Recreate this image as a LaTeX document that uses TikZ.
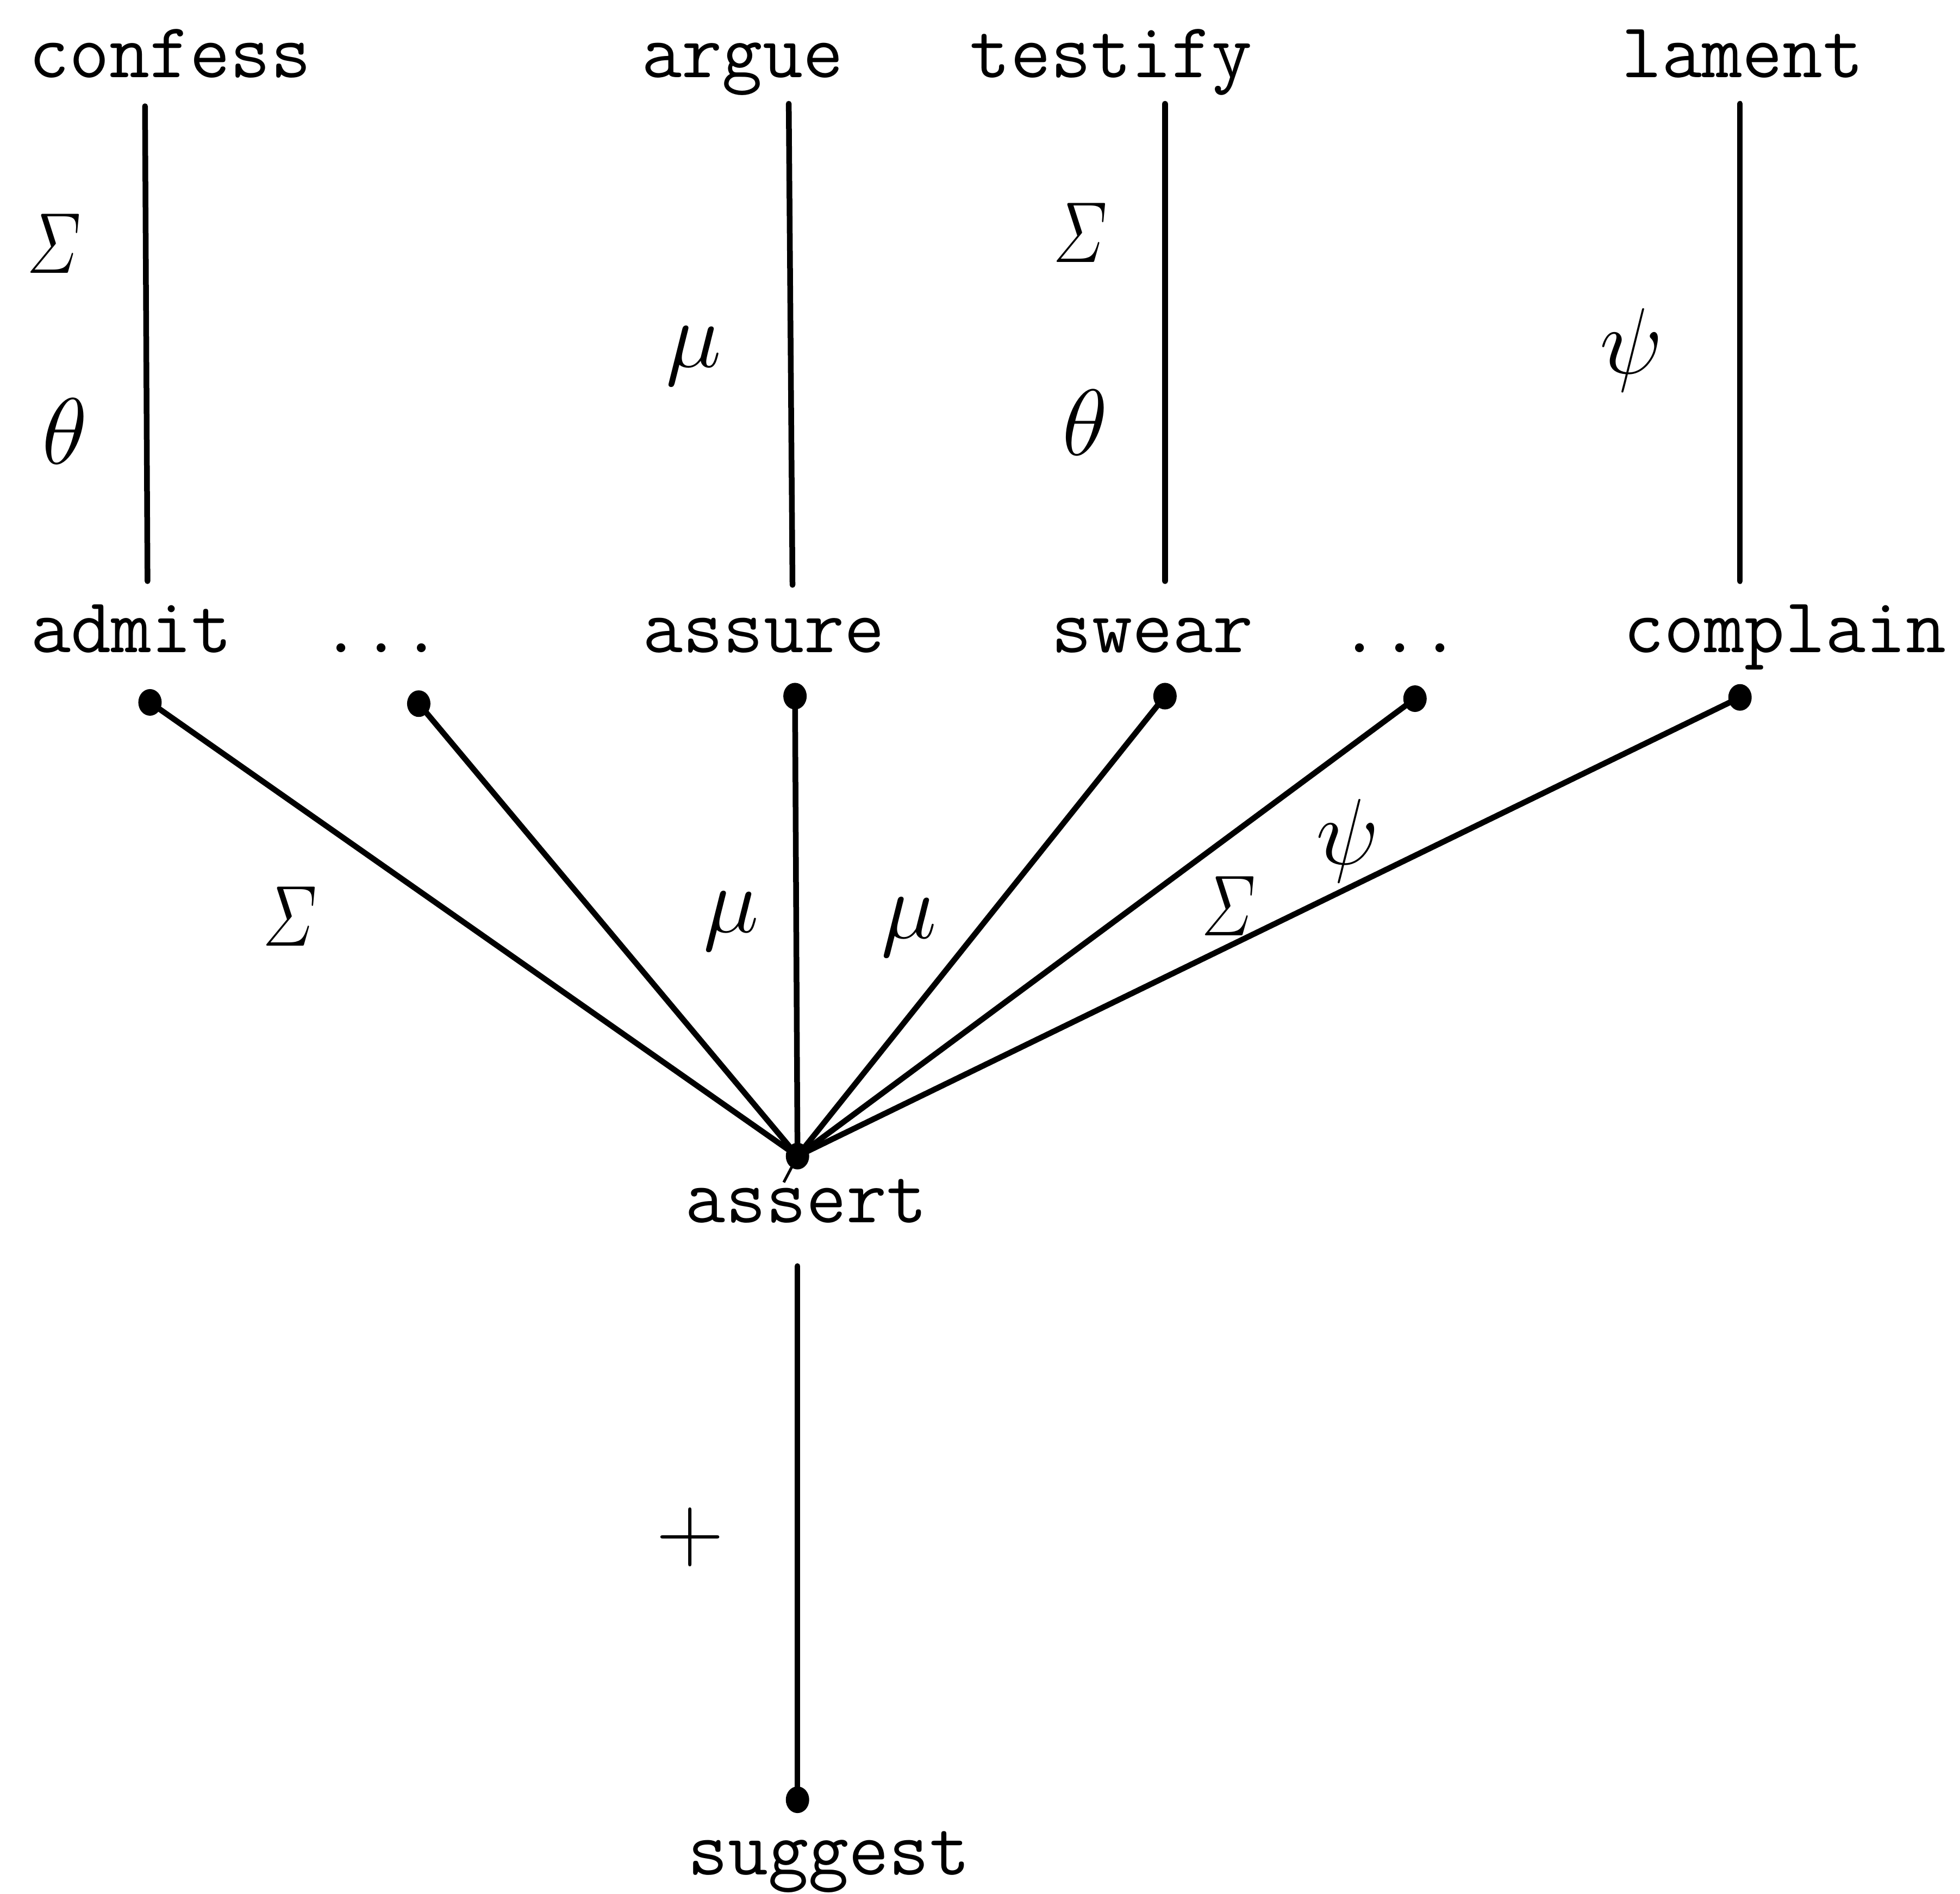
\documentclass[tikz,border=0pt]{standalone}
\usepackage{amsmath}
\usepackage{fontspec}
\usetikzlibrary{shapes.geometric}
\newcommand{\sigl}{\scalebox{0.7}[0.92]{$\varSigma$}}
\begin{document}
\begin{tikzpicture}[x=0.23pt,y=-0.23pt,
  word/.style={font=\ttfamily\fontsize{14.4}{16}\selectfont, inner sep=0pt, anchor=base},
  lbl/.style={font=\fontsize{17}{20}\selectfont, inner sep=0pt},
  pt/.style={ellipse, fill=black, inner sep=0pt, minimum width=4.3pt, minimum height=4.9pt},
  edge/.style={line width=1.05pt, line cap=round}]
\useasboundingbox (0,0) rectangle (1568,1515);
% words
\node[word] (confess) at (136,62) {confess};
\node[word] (argue) at (594,62) {argue};
\node[word] (testify) at (889,62) {testify};
\node[word] (lament) at (1394,62) {lament};
\node[word] (admit) at (105,522) {admit};
\node[word] (dotsa) at (305,522) {...};
\node[word] (assure) at (611,522) {assure};
\node[word] (swear) at (922,522) {swear};
\node[word] (dotsb) at (1120,522) {...};
\node[word] (complain) at (1428,522) {complain};
\node[word] (assert) at (645,978) {assert};
\node[word] (suggest) at (663,1500) {suggest};
% dots
\node[pt] (p1) at (120,562) {};
\node[pt] (p2) at (335,563) {};
\node[pt] (p3) at (636,557) {};
\node[pt] (p4) at (932,557) {};
\node[pt] (p5) at (1132,559) {};
\node[pt] (p6) at (1392,558) {};
\node[pt] (pa) at (638,925) {};
\node[pt] (ps) at (638,1440) {};
% vertical line ends
\coordinate (t1) at (116,85); \coordinate (b1) at (118,465);
\coordinate (t2) at (631,83); \coordinate (b2) at (634,468);
\coordinate (t3) at (932,83); \coordinate (b3) at (932,465);
\coordinate (t4) at (1392,83); \coordinate (b4) at (1392,465);
\coordinate (ta) at (638,1013);
\draw[edge] (t1) -- (b1);
\draw[edge] (t2) -- (b2);
\draw[edge] (t3) -- (b3);
\draw[edge] (t4) -- (b4);
\draw[edge] (ta) -- (ps.center);
% fan
\foreach \p in {p1,p2,p3,p4,p5,p6} \draw[edge] (\p.center) -- (pa.center);
\coordinate (tick) at (627,946);
\draw[line width=0.5pt] (pa.center) -- (tick);
% labels
\node[lbl] (s1) at (43,195) {\sigl};
\node[lbl] (th1) at (52,345) {$\theta$};
\node[lbl] (mu1) at (555,285) {$\mu$};
\node[lbl] (s2) at (864,186) {\sigl};
\node[lbl] (th2) at (868,338) {$\theta$};
\node[lbl] (psi1) at (1305,280) {$\psi$};
\node[lbl] (s3) at (232,733) {\sigl};
\node[lbl] (mu2) at (585,737) {$\mu$};
\node[lbl] (mu3) at (727,742) {$\mu$};
\node[lbl] (s4) at (983,725) {\sigl};
\node[lbl] (psi2) at (1078,673) {$\psi$};
\node[lbl] (plus) at (552,1230) {$+$};
\end{tikzpicture}
\end{document}
